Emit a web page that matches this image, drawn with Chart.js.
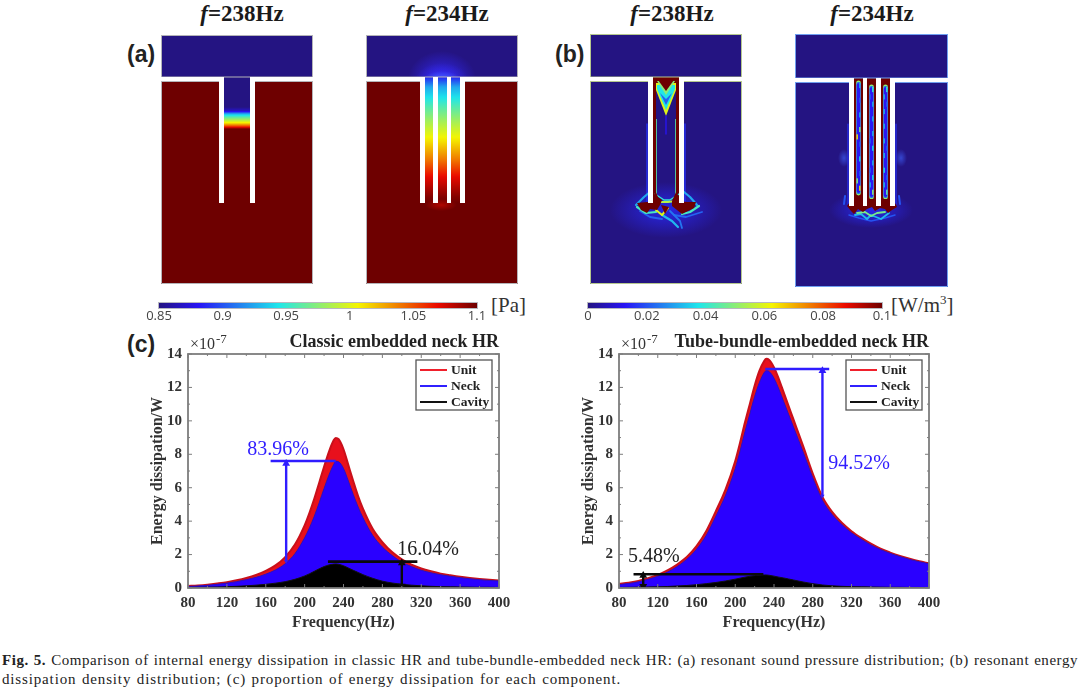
<!DOCTYPE html>
<html>
<head>
<meta charset="utf-8">
<script src="https://cdn.jsdelivr.net/npm/chart.js@4"></script>
<style>
  html, body { margin: 0; padding: 0; background: #fff; }
  body { position: relative; width: 1080px; height: 691px; overflow: hidden; }
  canvas { position: absolute; display: block; }
  .t { position: absolute; white-space: nowrap; color: #1a1a1a; }
  .freq { font: bold 23px "Liberation Serif", serif; transform: translateX(-50%); top: 1px; }
  .panel { font: bold 23px "Liberation Sans", sans-serif; color: #222; }
  .unit { font: 21px "Liberation Serif", serif; color: #333; }
  .unit sup { font-size: 13px; line-height: 0; }
  #cap1, #cap2 { position: absolute; left: 2px; font: 15px/16px "Liberation Serif", serif; color: #222; white-space: nowrap; }
  #cap1 { width: 1076px; top: 652px; letter-spacing: 0.55px; text-align: justify; text-align-last: justify; white-space: normal; }
  #cap2 { top: 671px; letter-spacing: 0.85px; word-spacing: 1px; }
</style>
</head>
<body>
<div class="t freq" style="left:242px"><i>f</i>=238Hz</div>
<div class="t freq" style="left:447px"><i>f</i>=234Hz</div>
<div class="t freq" style="left:672px"><i>f</i>=238Hz</div>
<div class="t freq" style="left:872px"><i>f</i>=234Hz</div>
<div class="t panel" style="left:127px;top:41px">(a)</div>
<div class="t panel" style="left:555px;top:41px">(b)</div>
<div class="t panel" style="left:127px;top:331px">(c)</div>
<div class="t unit" style="left:491px;top:293px">[Pa]</div>
<div class="t unit" style="left:891px;top:293px">[W/m<sup>3</sup>]</div>
<canvas id="fieldA1" width="152" height="249" style="left:161px;top:35px"></canvas>
<canvas id="fieldA2" width="152" height="249" style="left:366px;top:35px"></canvas>
<canvas id="fieldB1" width="152" height="250" style="left:590px;top:34px"></canvas>
<canvas id="fieldB2" width="153" height="253" style="left:795px;top:34px"></canvas>
<canvas id="barA" width="380" height="28" style="left:140px;top:298px"></canvas>
<canvas id="barB" width="330" height="28" style="left:570px;top:298px"></canvas>
<canvas id="classic" width="398" height="303" style="left:120px;top:332px"></canvas>
<canvas id="tube" width="397" height="303" style="left:551px;top:332px"></canvas>
<div id="cap1"><b>Fig. 5.</b> Comparison of internal energy dissipation in classic HR and tube-bundle-embedded neck HR: (a) resonant sound pressure distribution; (b) resonant energy</div>
<div id="cap2">dissipation density distribution; (c) proportion of energy dissipation for each component.</div>

<script>
// Frequency response of each component, in units of 1e-7 W.
const frequency = [80,90,100,110,120,130,140,150,160,170,180,190,200,205,210,215,220,225,230,232,235,240,245,250,255,260,270,280,290,300,310,320,330,340,350,360,370,380,390,400];
const classicUnit = [.12,.15,.20,.27,.35,.46,.60,.78,1.02,1.35,1.85,2.6,3.75,4.5,5.35,6.3,7.25,8.15,8.85,8.98,8.9,8.3,7.35,6.4,5.5,4.75,3.55,2.75,2.15,1.72,1.4,1.17,1.0,.86,.76,.67,.6,.54,.49,.45];
const classicNeck = [.09,.12,.16,.22,.29,.38,.5,.64,.83,1.08,1.45,2.05,3.0,3.6,4.3,5.1,5.95,6.75,7.4,7.58,7.55,7.15,6.4,5.6,4.85,4.2,3.15,2.45,1.95,1.55,1.28,1.06,.91,.79,.7,.62,.55,.5,.45,.42];
const classicCavity = [.03,.04,.05,.06,.08,.1,.13,.17,.22,.29,.38,.52,.72,.85,1.0,1.15,1.28,1.38,1.43,1.44,1.42,1.33,1.2,1.06,.93,.8,.58,.41,.3,.22,.17,.13,.1,.08,.07,.06,.05,.04,.04,.03];
const tubeUnit = [.25,.32,.42,.58,.78,1.05,1.4,1.85,2.5,3.4,4.6,5.9,7.6,8.7,9.9,11.0,12.1,13.0,13.6,13.72,13.65,13.2,12.5,11.7,10.9,10.1,8.5,6.85,5.45,4.55,3.9,3.4,3.0,2.65,2.35,2.12,1.92,1.75,1.6,1.48];
const tubeNeck = [.2,.27,.37,.52,.7,.95,1.28,1.72,2.32,3.15,4.3,5.55,7.15,8.2,9.35,10.4,11.45,12.3,12.9,13.0,12.95,12.55,11.9,11.15,10.4,9.65,8.15,6.6,5.25,4.4,3.8,3.3,2.92,2.58,2.3,2.07,1.88,1.71,1.57,1.45];
const tubeCavity = [.03,.04,.05,.06,.07,.09,.12,.15,.2,.26,.33,.42,.53,.59,.65,.7,.74,.77,.78,.78,.76,.71,.65,.6,.54,.48,.36,.26,.18,.13,.1,.08,.07,.06,.05,.04,.04,.03,.03,.02];
const seriesNames = ['Unit', 'Neck', 'Cavity'];

const xTickValues = [80,120,160,200,240,280,320,360,400];
const yTickValues = [0,2,4,6,8,10,12,14];
const pressureTickValues = [0.85,0.9,0.95,1,1.05,1.1];
const pressureTickLabels = ['0.85','0.9','0.95','1','1.05','1.1'];
const densityTickValues = [0,0.02,0.04,0.06,0.08,0.1];
const densityTickLabels = ['0','0.02','0.04','0.06','0.08','0.1'];

// Dimension lines marking each share of the peak dissipation.
const classicNeckShare = { label: '83.96%', rule: [[165,7.6],[232,7.6]], arrow: [[181,1.6],[181,7.45]], text: [172.6,8.26] };
const classicCavityShare = { label: '16.04%', rule: [[224,1.58],[316,1.58]], arrow: [[300,.12],[300,1.5]], text: [327,2.27] };
const tubeNeckShare = { label: '94.52%', rule: [[231,13.1],[297,13.1]], arrow: [[290,5.5],[290,13.0]], text: [327.7,7.42] };
const tubeCavityShare = { label: '5.48%', rule: [[95,.82],[229,.82]], arrow: [[105,.1],[105,.75]], text: [116,1.86] };

// Sound pressure (Pa) along the neck, by depth below the neck mouth.
const neckDepth238 = [0,30,34,37,40,43,46,49,52,126];
const neckPressure238 = [.85,.85,.87,.93,.96,.985,1.01,1.05,1.1,1.1];
const neckDepth234 = [0,10,30,46,60,83,100,120,126];
const neckPressure234 = [.885,.925,.96,.985,1.005,1.04,1.07,1.095,1.1];

// Dissipation density (W/m^3) sampled down the core of each tube at 234 Hz.
const tubeCoreLeft = [.03,.012,.02,.012,.03,.012,.05,.065,.02,.012,.035,.012,.02,.05,.065];
const tubeCoreMiddle = [.04,.02,.03,.012,.03,.012,.03,.02,.035,.012,.03,.02,.035,.03,.05];
const tubeCoreRight = [.04,.03,.02,.03,.012,.03,.012,.03,.02,.03,.012,.035,.02,.03,.045];

// Neck tip dissipation patterns at 238 Hz and 234 Hz: [density, stroke width, polyline].
const tipStrokes238 = [
  [.03,2.2,[[46,171],[54,163],[60,158]]], [.03,2.2,[[94,158],[100,163],[107,171]]],
  [.022,1.8,[[50,177],[60,183],[72,185]]], [.022,1.8,[[84,181],[96,183],[112,178]]],
  [.032,2.2,[[72,181],[82,187],[88,193]]], [.024,1.8,[[80,177],[90,187],[92,194]]],
  [.042,2.2,[[47,173],[56,179],[66,178]]], [.042,2.2,[[92,180],[100,178],[109,172]]],
  [.04,1.5,[[65,160],[74,166],[80,166],[89,160]]],
  [.055,2,[[70,168],[78,168],[86,167]]], [.06,2,[[66,176],[72,181],[78,174]]]
];
const tipBlobs238 = [
  [[47,169],[57,168],[63,167],[65,156],[68,163],[72,166],[70,171],[67,176],[60,175],[57,179],[51,176]],
  [[82,167],[87,156],[89,167],[97,168],[106,168],[104,174],[98,177],[92,180],[87,176],[82,172]],
  [[71,171],[75,180],[79,173]]
];
const tipStrokes234 = [
  [.02,2,[[50,162],[49,170]]], [.02,2,[[104,162],[105,170]]],
  [.02,1.5,[[54,181],[64,184],[76,187],[90,184],[100,181]]],
  [.032,1.8,[[60,181],[66,180],[72,185],[76,181],[86,185],[94,179]]],
  [.048,1.8,[[62,179],[70,178],[76,182],[82,179],[90,178]]]
];
const tipBlob234 = [[52,172],[57,165],[98,165],[102,173],[97,176],[93,179],[90,175],[85,174],[80,177],[77,173],[72,175],[68,178],[63,175],[59,180],[56,177]];

// Jet colour ramp with the dark ends used by the field plots.
const rampPositions = [0,.125,.375,.625,.875,1];
const rampColours = [[36,20,130],[40,20,245],[30,230,235],[245,245,0],[235,10,0],[110,0,0]];

const SERIF = '"Liberation Serif", serif';

function rampColour(t) {
  t = Math.max(0, Math.min(1, t));
  let i = 0;
  while (i < rampPositions.length - 2 && t > rampPositions[i + 1]) i++;
  const k = (t - rampPositions[i]) / (rampPositions[i + 1] - rampPositions[i]);
  const c = rampColours[i].map((v, j) => Math.round(v + (rampColours[i + 1][j] - v) * k));
  return `rgb(${c[0]},${c[1]},${c[2]})`;
}
const pressureColour = p => rampColour((p - .85) / .25);
const densityColour = d => rampColour(d / .1);

function fieldChart(id, xMax, yMax, paint) {
  return new Chart(document.getElementById(id), {
    type: 'scatter',
    data: { datasets: [] },
    options: {
      responsive: false, animation: false, devicePixelRatio: 1,
      layout: { padding: 0, autoPadding: false },
      plugins: { legend: { display: false }, tooltip: { enabled: false }, title: { display: false } },
      scales: {
        x: { type: 'linear', display: false, min: 0, max: xMax },
        y: { type: 'linear', display: false, min: 0, max: yMax, reverse: true }
      }
    },
    plugins: [{ id: 'field', beforeDatasetsDraw(chart) { paint(chart); } }]
  });
}

// Helpers working in panel coordinates through the chart's own scales.
function box(chart, x0, y0, x1, y1, colour) {
  const { x, y } = chart.scales, c = chart.ctx;
  const l = x.getPixelForValue(x0), t = y.getPixelForValue(y0);
  c.fillStyle = colour;
  c.fillRect(l, t, x.getPixelForValue(x1) - l, y.getPixelForValue(y1) - t);
}
function polyline(chart, pts, width, colour, close) {
  const { x, y } = chart.scales, c = chart.ctx;
  c.beginPath();
  pts.forEach((p, i) => {
    const X = x.getPixelForValue(p[0]), Y = y.getPixelForValue(p[1]);
    i ? c.lineTo(X, Y) : c.moveTo(X, Y);
  });
  if (close) { c.closePath(); c.fillStyle = colour; c.fill(); }
  else { c.lineWidth = width; c.lineCap = 'round'; c.lineJoin = 'round'; c.strokeStyle = colour; c.stroke(); }
}
function glow(chart, cx, cy, rx, ry, colour, transparent) {
  const { x, y } = chart.scales, c = chart.ctx;
  c.save();
  c.translate(x.getPixelForValue(cx), y.getPixelForValue(cy));
  c.scale(rx, ry);
  const g = c.createRadialGradient(0, 0, 0, 0, 0, 1);
  g.addColorStop(0, colour);
  g.addColorStop(1, transparent);
  c.fillStyle = g;
  c.beginPath(); c.arc(0, 0, 1, 0, Math.PI * 2); c.fill();
  c.restore();
}
function clipTo(chart, x0, y0, x1, y1) {
  const { x, y } = chart.scales, c = chart.ctx;
  const l = x.getPixelForValue(x0), t = y.getPixelForValue(y0);
  c.beginPath();
  c.rect(l, t, x.getPixelForValue(x1) - l, y.getPixelForValue(y1) - t);
  c.clip();
}
function depthColumn(chart, x0, x1, top, depths, values) {
  const c = chart.ctx, s = chart.scales.y;
  const y0 = s.getPixelForValue(top + depths[0]), y1 = s.getPixelForValue(top + depths[depths.length - 1]);
  const g = c.createLinearGradient(0, y0, 0, y1);
  for (let i = 0; i < depths.length - 1; i++) {
    for (let k = 0; k < 6; k++) {
      const f = k / 6;
      const d = depths[i] + (depths[i + 1] - depths[i]) * f;
      const v = values[i] + (values[i + 1] - values[i]) * f;
      g.addColorStop((d - depths[0]) / (depths[depths.length - 1] - depths[0]), pressureColour(v));
    }
  }
  g.addColorStop(1, pressureColour(values[values.length - 1]));
  box(chart, x0, top + depths[0], x1, top + depths[depths.length - 1], g);
}
function frame(chart, layout, edge) {
  const { w, h, bandEnd, cavityStart, neckEnd, walls } = layout;
  const c = chart.ctx, Y = chart.scales.y.getPixelForValue(cavityStart);
  c.strokeStyle = edge; c.lineWidth = 1;
  c.strokeRect(.5, .5, w - 1, bandEnd - .5);
  c.beginPath();
  const a = walls[0][0], b = walls[walls.length - 1][1];
  c.moveTo(.5, Y + .5);
  c.lineTo(chart.scales.x.getPixelForValue(a), Y + .5);
  c.moveTo(chart.scales.x.getPixelForValue(b), Y + .5);
  c.lineTo(w - .5, Y + .5);
  c.moveTo(.5, Y);
  c.lineTo(.5, h - .5); c.lineTo(w - .5, h - .5); c.lineTo(w - .5, Y);
  c.stroke();
  walls.forEach(w2 => box(chart, w2[0], bandEnd, w2[1], neckEnd, '#fff'));
  box(chart, 0, bandEnd, walls[0][1], cavityStart, '#fff');
  box(chart, walls[walls.length - 1][0], bandEnd, w, cavityStart, '#fff');
}

// Panel geometry.
const layoutA1 = { w: 152, h: 249, bandEnd: 42, cavityStart: 46, neckEnd: 168, walls: [[58,63],[89,94]] };
const layoutA2 = { w: 152, h: 249, bandEnd: 42, cavityStart: 46, neckEnd: 168, walls: [[54,59],[67,72],[81,85],[94,99]] };
const layoutB1 = { w: 152, h: 250, bandEnd: 43, cavityStart: 47, neckEnd: 169, walls: [[58,63],[89,94]] };
const layoutB2 = { w: 153, h: 253, bandEnd: 44, cavityStart: 48, neckEnd: 172, walls: [[54,59],[68,72],[81,86],[95,100]] };

fieldChart('fieldA1', layoutA1.w, layoutA1.h, chart => {
  const L = layoutA1;
  box(chart, 0, 0, L.w, L.bandEnd, pressureColour(.85));
  box(chart, 0, L.bandEnd, L.w, L.h, pressureColour(1.1));
  depthColumn(chart, 63, 89, L.bandEnd, neckDepth238, neckPressure238);
  frame(chart, L, '#b4b4b8');
});

fieldChart('fieldA2', layoutA2.w, layoutA2.h, chart => {
  const L = layoutA2;
  box(chart, 0, 0, L.w, L.bandEnd, pressureColour(.85));
  box(chart, 0, L.bandEnd, L.w, L.h, pressureColour(1.1));
  chart.ctx.save();
  clipTo(chart, 0, 0, L.w, L.bandEnd);
  glow(chart, 76, 44, 34, 28, 'rgba(50,40,245,.95)', 'rgba(50,40,245,0)');
  glow(chart, 76, 44, 26, 16, 'rgba(55,45,250,.8)', 'rgba(55,45,250,0)');
  glow(chart, 76, 44, 18, 8, 'rgba(70,100,255,.9)', 'rgba(70,100,255,0)');
  chart.ctx.restore();
  depthColumn(chart, 59, 67, L.bandEnd, neckDepth234, neckPressure234);
  depthColumn(chart, 72, 81, L.bandEnd, neckDepth234, neckPressure234);
  depthColumn(chart, 85, 94, L.bandEnd, neckDepth234, neckPressure234);
  glow(chart, 75, 170, 16, 6, 'rgba(205,10,0,.7)', 'rgba(205,10,0,0)');
  frame(chart, L, '#b4b4b8');
});

fieldChart('fieldB1', layoutB1.w, layoutB1.h, chart => {
  const L = layoutB1, c = chart.ctx;
  box(chart, 0, 0, L.w, L.h, densityColour(0));
  glow(chart, 76, 176, 56, 28, 'rgba(40,40,240,.9)', 'rgba(40,40,240,0)');
  // strips of dissipation hugging the tube wall
  box(chart, 63, 43, 89, 50, densityColour(.1));
  box(chart, 63, 50, 66, 169, densityColour(.1));
  box(chart, 86, 50, 89, 169, densityColour(.1));
  box(chart, 66, 85, 66.8, 160, densityColour(.045));
  box(chart, 85.2, 85, 86, 160, densityColour(.045));
  c.save();
  c.filter = 'blur(0.5px)';
  polyline(chart, [[57,90],[57,168]], 1.4, densityColour(.016));
  polyline(chart, [[95,90],[95,168]], 1.4, densityColour(.016));
  // V-shaped front under the neck mouth
  polyline(chart, [[66,49],[86,49],[86,56],[76,82],[66,56]], 0, densityColour(.06), true);
  polyline(chart, [[67,51],[85,51],[85,55],[76,76],[67,55]], 0, densityColour(.038), true);
  polyline(chart, [[70,59],[76,65],[82,59],[76,71]], 0, densityColour(.022), true);
  polyline(chart, [[67,47],[85,47],[76,61]], 0, densityColour(.05), true);
  polyline(chart, [[68,46],[84,46],[76,57]], 0, densityColour(.1), true);
  polyline(chart, [[76,82],[76,100]], 1.4, densityColour(.012));
  tipStrokes238.forEach(s => polyline(chart, s[2], s[1], densityColour(s[0])));
  tipBlobs238.forEach(p => polyline(chart, p, 0, densityColour(.1), true));
  c.restore();
  frame(chart, L, '#b5c78e');
});

fieldChart('fieldB2', layoutB2.w, layoutB2.h, chart => {
  const L = layoutB2, c = chart.ctx;
  box(chart, 0, 0, L.w, L.h, densityColour(0));
  glow(chart, 76, 176, 42, 18, 'rgba(40,40,240,.95)', 'rgba(40,40,240,0)');
  glow(chart, 49, 124, 6, 9, 'rgba(60,90,240,.7)', 'rgba(60,90,240,0)');
  glow(chart, 106, 124, 6, 9, 'rgba(60,90,240,.7)', 'rgba(60,90,240,0)');
  c.save();
  c.filter = 'blur(0.5px)';
  polyline(chart, [[53,90],[53,170]], 1.2, densityColour(.016));
  polyline(chart, [[101,90],[101,170]], 1.2, densityColour(.016));
  box(chart, 59, 44, 95, 172, densityColour(.1));
  [[63.5,49,159,tubeCoreLeft],[76.5,53,163,tubeCoreMiddle],[90.5,53,163,tubeCoreRight]].forEach(([cx, top, end, core]) => {
    polyline(chart, [[cx,top],[cx,end]], 4.8, densityColour(.05));
    polyline(chart, [[cx,top+1],[cx,end-1]], 4.2, densityColour(.022));
    polyline(chart, [[cx,top+2],[cx,end-2]], 3.4, densityColour(.013));
    const step = (end - top) / core.length;
    core.forEach((v, i) => {
      if (v > .014) {
        const side = i % 2 ? -1.3 : 1.3;
        box(chart, cx + side - .7, top + i * step, cx + side + .7, top + (i + .7) * step, densityColour(v));
      }
    });
  });
  tipStrokes234.forEach(s => polyline(chart, s[2], s[1], densityColour(s[0])));
  polyline(chart, tipBlob234, 0, densityColour(.1), true);
  c.restore();
  frame(chart, L, '#6f9ff0');
});

// Colour scale bars with a real linear axis.
function colourBar(id, min, max, values, labels, left, right, colourOf) {
  return new Chart(document.getElementById(id), {
    type: 'scatter',
    data: { datasets: [] },
    options: {
      responsive: false, animation: false, devicePixelRatio: 1,
      layout: { padding: { left, right, top: 5, bottom: 0 }, autoPadding: false },
      plugins: { legend: { display: false }, tooltip: { enabled: false } },
      scales: {
        y: { display: false, min: 0, max: 1 },
        x: {
          type: 'linear', min, max,
          grid: { display: false, drawTicks: false }, border: { display: false },
          afterBuildTicks: s => { s.ticks = values.map(value => ({ value })); },
          afterFit: s => { s.height = 18; },
          ticks: {
            autoSkip: false, maxRotation: 0, padding: 0, color: '#444',
            font: { family: '"Open Sans", sans-serif', size: 13 },
            callback: v => labels[values.indexOf(v)] ?? ''
          }
        }
      }
    },
    plugins: [{
      id: 'ramp',
      beforeDatasetsDraw(chart) {
        const a = chart.chartArea, c = chart.ctx;
        const g = c.createLinearGradient(a.left, 0, a.right, 0);
        for (let i = 0; i <= 40; i++) g.addColorStop(i / 40, colourOf(min + (max - min) * i / 40));
        c.fillStyle = g;
        c.fillRect(a.left, a.top, a.right - a.left, a.bottom - a.top);
        c.strokeStyle = '#b8b8c0'; c.lineWidth = 1;
        c.strokeRect(a.left - .5, a.top - .5, a.right - a.left + 1, a.bottom - a.top + 1);
      }
    }]
  });
}
colourBar('barA', .85, 1.1, pressureTickValues, pressureTickLabels, 19, 43, pressureColour);
colourBar('barB', 0, .1, densityTickValues, densityTickLabels, 18, 18, densityColour);

// Axis box, inward ticks, legend box and annotation labels of a response plot.
const responseDecor = {
  id: 'responseDecor',
  afterDraw(chart) {
    const c = chart.ctx, a = chart.chartArea, { x, y } = chart.scales, opt = chart.options.plugins.responseDecor;
    c.save();
    c.strokeStyle = '#7d7d7d'; c.lineWidth = 1.8;
    c.strokeRect(a.left, a.top, a.right - a.left, a.bottom - a.top);
    c.lineWidth = 1;
    for (let v = 80; v <= 400; v += 20) {
      const X = x.getPixelForValue(v), len = (v - 80) % 40 ? 2 : 4;
      c.beginPath();
      c.moveTo(X, a.bottom); c.lineTo(X, a.bottom - len);
      c.moveTo(X, a.top); c.lineTo(X, a.top + len);
      c.stroke();
    }
    for (let v = 0; v <= 14; v += 1) {
      const Y = y.getPixelForValue(v), len = v % 2 ? 2 : 4;
      c.beginPath();
      c.moveTo(a.left, Y); c.lineTo(a.left + len, Y);
      c.moveTo(a.right, Y); c.lineTo(a.right - len, Y);
      c.stroke();
    }
    // exponent above the y axis
    c.fillStyle = '#333';
    c.textBaseline = 'alphabetic'; c.textAlign = 'left';
    c.font = `16px ${SERIF}`;
    c.fillText('×10', a.left + 2, a.top - 5);
    c.font = `13px ${SERIF}`;
    c.fillText('-7', a.left + 28, a.top - 11);
    // legend
    const L = a.right - 83, T = a.top + 6;
    c.fillStyle = '#fff'; c.fillRect(L, T, 76, 50);
    c.strokeStyle = '#555'; c.lineWidth = 1.3; c.strokeRect(L, T, 76, 50);
    const keys = ['#f0202c', '#3020ff', '#111'];
    seriesNames.forEach((name, i) => {
      const Y = T + 10 + i * 16;
      c.strokeStyle = keys[i]; c.lineWidth = 2;
      c.beginPath(); c.moveTo(L + 4, Y); c.lineTo(L + 31, Y); c.stroke();
      c.fillStyle = '#222';
      c.font = `bold 13.5px ${SERIF}`;
      c.textBaseline = 'middle';
      c.fillText(name, L + 35, Y + .5);
    });
    // share labels
    c.textAlign = 'center';
    c.font = `20px ${SERIF}`;
    opt.shares.forEach(s => {
      c.fillStyle = s.colour;
      c.fillText(s.label, x.getPixelForValue(s.text[0]), y.getPixelForValue(s.text[1]));
    });
    c.restore();
  }
};

function curve(label, values, line, width, fillColour, order) {
  return {
    label, order,
    data: frequency.map((f, i) => ({ x: f, y: values[i] })),
    borderColor: line, borderWidth: width, backgroundColor: fillColour,
    fill: 'origin', pointRadius: 0, cubicInterpolationMode: 'monotone'
  };
}
function ruleSet(share, colour, doubleHead) {
  const toPoint = p => ({ x: p[0], y: p[1] });
  return [
    { label: 'rule', order: 0, data: share.rule.map(toPoint), borderColor: colour, borderWidth: 2.6, pointRadius: 0, fill: false },
    { label: 'arrow', order: 0, data: share.arrow.map(toPoint), borderColor: colour, borderWidth: 2.4,
      fill: false, pointStyle: 'triangle', pointRadius: [doubleHead ? 4.5 : 2.5, 4.5], pointBorderWidth: 0,
      pointBackgroundColor: colour, pointRotation: [180, 0] }
  ];
}

function responseChart(id, title, unit, neck, cavity, neckShare, cavityShare) {
  const BLUE = '#2f1cff', BLACK = '#0a0a0a';
  return new Chart(document.getElementById(id), {
    type: 'line',
    data: {
      datasets: [
        curve(seriesNames[0], unit, '#c9101a', 2, '#e8101c', 3),
        curve(seriesNames[1], neck, '#2a10c0', 1, '#2a00ff', 2),
        curve(seriesNames[2], cavity, '#111', 1, '#000', 1),
        ...ruleSet(neckShare, BLUE, false),
        ...ruleSet(cavityShare, BLACK, true)
      ]
    },
    options: {
      responsive: false, animation: false, devicePixelRatio: 1,
      layout: { padding: { left: 0, right: 19, top: 0, bottom: 0 }, autoPadding: false },
      plugins: {
        legend: { display: false }, tooltip: { enabled: false },
        title: {
          display: true, text: title, align: 'end', color: '#222',
          font: { family: SERIF, size: 18, weight: 'bold', lineHeight: 1.1 },
          padding: { top: 0, bottom: 2.2 }
        },
        responseDecor: {
          shares: [
            { label: neckShare.label, text: neckShare.text, colour: BLUE },
            { label: cavityShare.label, text: cavityShare.text, colour: '#222' }
          ]
        }
      },
      scales: {
        x: {
          type: 'linear', min: 80, max: 400,
          grid: { display: false, drawTicks: false }, border: { display: false },
          afterBuildTicks: s => { s.ticks = xTickValues.map(value => ({ value })); },
          afterFit: s => { s.height = 47; },
          ticks: { autoSkip: false, maxRotation: 0, padding: 6, color: '#333', font: { family: SERIF, size: 15, weight: 'bold' } },
          title: { display: true, text: 'Frequency(Hz)', color: '#333', font: { family: SERIF, size: 16, weight: 'bold' }, padding: { top: 0, bottom: 3 } }
        },
        y: {
          type: 'linear', min: 0, max: 14,
          grid: { display: false, drawTicks: false }, border: { display: false },
          afterBuildTicks: s => { s.ticks = yTickValues.map(value => ({ value })); },
          afterFit: s => { s.width = 68; },
          ticks: { autoSkip: false, padding: 6, color: '#333', font: { family: SERIF, size: 15, weight: 'bold' } },
          title: { display: true, text: 'Energy dissipation/W', color: '#333', font: { family: SERIF, size: 16, weight: 'bold' }, padding: { top: 28, bottom: 0 } }
        }
      }
    },
    plugins: [responseDecor]
  });
}

responseChart('classic', 'Classic embedded neck HR', classicUnit, classicNeck, classicCavity, classicNeckShare, classicCavityShare);
responseChart('tube', 'Tube-bundle-embedded neck HR', tubeUnit, tubeNeck, tubeCavity, tubeNeckShare, tubeCavityShare);
</script>
</body>
</html>
